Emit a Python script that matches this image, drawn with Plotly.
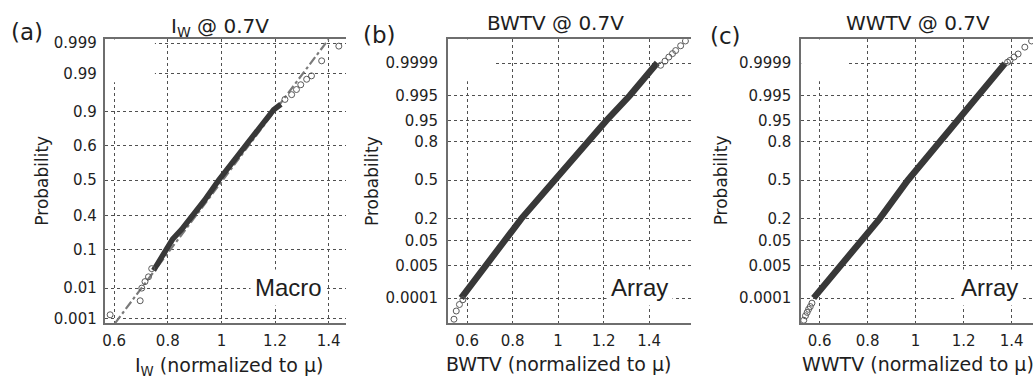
import plotly.graph_objects as go

# ---- (a) I_W macro measurements: normal probability plot (x normalized to mean, y in sigma units) ----
iw_band_x = [0.747, 0.771, 0.796, 0.818, 0.851, 0.893, 0.937, 0.990, 1.083, 1.133, 1.165, 1.195, 1.222]
iw_band_z = [-2.64, -2.35, -2.04, -1.73, -1.45, -1.04, -0.59, 0.0, 0.93, 1.41, 1.74, 2.06, 2.22]
iw_tail_x = [0.585, 0.697, 0.703, 0.715, 0.728, 0.740, 1.237, 1.262, 1.280, 1.296, 1.318, 1.336, 1.374, 1.438]
iw_tail_z = [-3.94, -3.53, -3.16, -2.97, -2.83, -2.59, 2.36, 2.50, 2.65, 2.79, 2.95, 3.05, 3.49, 3.92]
iw_fit_x = [0.603, 1.400]
iw_fit_z = [-4.19, 4.12]
iw_tick_z = [-4.05, -3.16, -2.04, -1.04, 0.0, 1.01, 2.00, 3.12, 4.01]
iw_tick_text = ["0.001", "0.01", "0.1", "0.4", "0.5", "0.6", "0.9", "0.99", "0.999"]

# ---- (b) BWTV array measurements ----
bw_band_x = [0.574, 0.680, 0.762, 0.838, 0.985, 1.130, 1.212, 1.315, 1.436]
bw_band_z = [-3.45, -2.50, -1.78, -1.13, 0.0, 1.12, 1.74, 2.47, 3.43]
bw_tail_x = [0.542, 0.552, 0.566, 0.581, 1.451, 1.470, 1.487, 1.503, 1.517, 1.539, 1.560]
bw_tail_z = [-4.07, -3.83, -3.64, -3.50, 3.36, 3.48, 3.60, 3.70, 3.79, 3.93, 4.07]

# ---- (c) WWTV array measurements ----
ww_band_x = [0.575, 0.690, 0.778, 0.850, 0.968, 1.100, 1.175, 1.266, 1.372]
ww_band_z = [-3.45, -2.50, -1.78, -1.13, 0.0, 1.12, 1.74, 2.47, 3.41]
ww_tail_x = [0.534, 0.541, 0.548, 0.554, 0.561, 0.568, 1.383, 1.393, 1.410, 1.427, 1.455, 1.483]
ww_tail_z = [-4.10, -3.97, -3.87, -3.78, -3.70, -3.60, 3.45, 3.50, 3.60, 3.69, 3.89, 4.07]

arr_tick_z = [-3.45, -2.50, -1.78, -1.13, 0.0, 1.12, 1.74, 2.47, 3.42]
arr_tick_text = ["0.0001", "0.005", "0.05", "0.2", "0.5", "0.8", "0.95", "0.995", "0.9999"]

x_ticks = [0.6, 0.8, 1.0, 1.2, 1.4]
x_tick_text = ["0.6", "0.8", "1", "1.2", "1.4"]

W, H = 1033, 382
TXT = "#1e1e1e"
GRID = "#505050"
FRAME = "#6e6e6e"
BAND = "#383838"
TAIL = "#5a5a5a"
TICKFONT = dict(family="DejaVu Sans", size=15, color=TXT)


def px(xp):
    return xp / W


def py(yp):
    return 1 - yp / H


fig = go.Figure()

panels = [
    dict(ax="", band=(iw_band_x, iw_band_z), tail=(iw_tail_x, iw_tail_z),
         dom=(102.7, 345.0), xr=[0.564, 1.466], ticks=(iw_tick_z, iw_tick_text),
         mask=(0.564, 0.752, 2.866), bw=5.5),
    dict(ax="2", band=(bw_band_x, bw_band_z), tail=(bw_tail_x, bw_tail_z),
         dom=(446.7, 690.0), xr=[0.515, 1.583], ticks=(arr_tick_z, arr_tick_text),
         mask=(0.515, 0.718, 2.894), bw=6.5),
    dict(ax="3", band=(ww_band_x, ww_band_z), tail=(ww_tail_x, ww_tail_z),
         dom=(800.7, 1033.0), xr=[0.523, 1.489], ticks=(arr_tick_z, arr_tick_text),
         mask=(0.523, 0.714, 2.894), bw=6.5),
]

y_range = [-4.19, 4.123]
y_dom = [py(326.0), py(35.0)]

for p in panels:
    xa = "x" + p["ax"]
    ya = "y" + p["ax"]
    if p["ax"] == "":
        fig.add_trace(go.Scatter(x=iw_fit_x, y=iw_fit_z, mode="lines", xaxis=xa, yaxis=ya,
                                 line=dict(color="#7a7a7a", width=2.2, dash="dashdot"),
                                 showlegend=False, hoverinfo="skip"))
    fig.add_trace(go.Scatter(x=p["band"][0], y=p["band"][1], mode="lines", xaxis=xa, yaxis=ya,
                             line=dict(color=BAND, width=p["bw"]),
                             showlegend=False))
    fig.add_trace(go.Scatter(x=p["tail"][0], y=p["tail"][1], mode="markers", xaxis=xa, yaxis=ya,
                             marker=dict(symbol="circle-open", size=6, color=TAIL,
                                         line=dict(width=1, color=TAIL)),
                             showlegend=False))

    xkey = "xaxis" + p["ax"]
    ykey = "yaxis" + p["ax"]
    fig.layout[xkey] = dict(
        domain=[px(p["dom"][0]), px(p["dom"][1])], range=p["xr"], anchor=ya,
        tickvals=x_ticks, ticktext=x_tick_text, tickfont=TICKFONT, ticks="",
        showgrid=True, gridcolor=GRID, griddash="dot", gridwidth=1,
        showline=True, linecolor=FRAME, linewidth=1.5, mirror=True,
        zeroline=False, ticklabelstandoff=3,
    )
    fig.layout[ykey] = dict(
        domain=y_dom, range=y_range, anchor=xa,
        tickvals=p["ticks"][0], ticktext=p["ticks"][1], tickfont=TICKFONT, ticks="",
        showgrid=True, gridcolor=GRID, griddash="dot", gridwidth=1,
        showline=True, linecolor=FRAME, linewidth=1.5, mirror=False,
        zeroline=False, ticklabelstandoff=5 if p["ax"] else 3,
    )
    # blank corner where the upper-left grid lines stop
    m = p["mask"]
    fig.add_shape(type="rect", xref=xa, yref=ya, x0=m[0], x1=m[1], y0=m[2], y1=y_range[1],
                  fillcolor="white", line=dict(width=0), layer="between")

ann = []


def label(text, xp, yp, size, family="DejaVu Sans", angle=0, bg=None, pad=1):
    d = dict(text=text, x=px(xp), y=py(yp), xref="paper", yref="paper",
             xanchor="center", yanchor="middle", showarrow=False, textangle=angle,
             font=dict(family=family, size=size, color=TXT), borderpad=pad)
    if bg:
        d["bgcolor"] = bg
    ann.append(d)


label("(a)", 25, 27.5, 23)
label("(b)", 378, 31, 23)
label("(c)", 725, 31.5, 23)
label("I<sub>W</sub> @ 0.7V", 218, 23, 20)
label("BWTV @ 0.7V", 555, 18, 20)
label("WWTV @ 0.7V", 917.5, 18, 20)
label("I<sub>W</sub> (normalized to μ)", 227.5, 370, 19)
label("BWTV (normalized to μ)", 557.3, 368, 19)
label("WWTV (normalized to μ)", 918, 368, 19)
label("Probability", 40, 180, 17, angle=-90)
label("Probability", 370, 180, 17, angle=-90)
label("Probability", 720, 180, 17, angle=-90)
label("Macro", 287, 289, 24, family="Liberation Sans", bg="white", pad=4)
label("Array", 639, 289, 24, family="Liberation Sans", bg="white", pad=4)
label("Array", 989, 289, 24, family="Liberation Sans", bg="white", pad=4)

fig.update_layout(
    width=W, height=H, margin=dict(l=0, r=0, t=0, b=0),
    paper_bgcolor="white", plot_bgcolor="white",
    annotations=ann, showlegend=False,
    font=dict(family="DejaVu Sans", color=TXT),
)

fig.write_html("out.html")
